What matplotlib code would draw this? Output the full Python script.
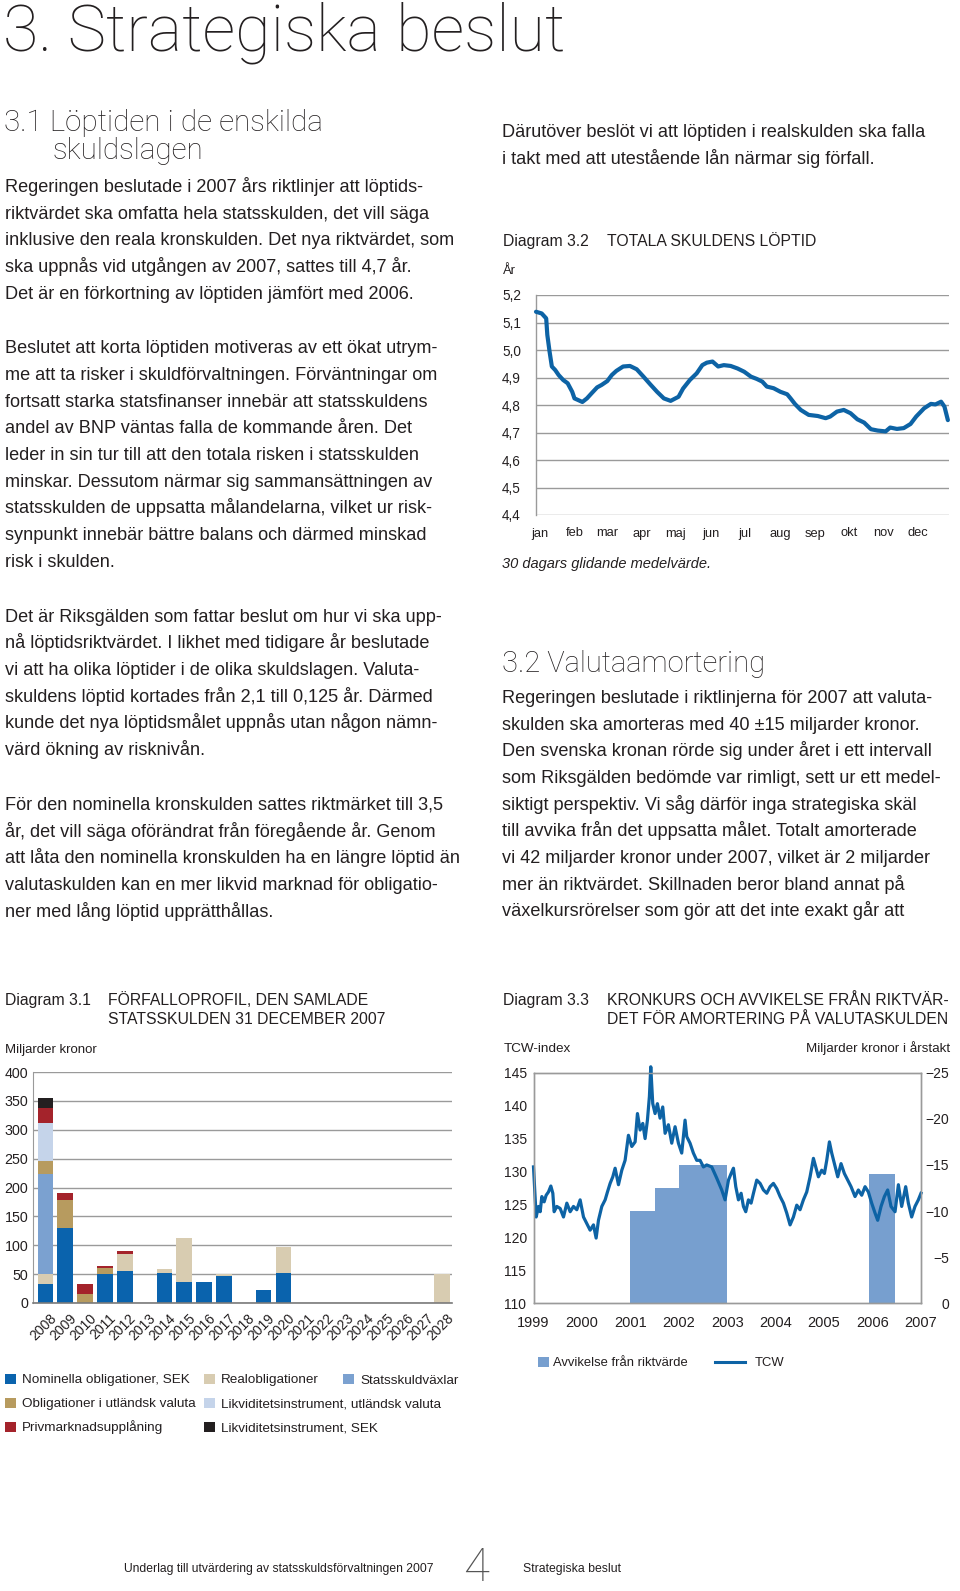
import matplotlib
matplotlib.use("Agg")
import matplotlib.pyplot as plt
import matplotlib.transforms as mtrans
from matplotlib.patches import Rectangle
from matplotlib.lines import Line2D
import numpy as np

# ---------------- data ----------------
# Diagram 3.2 Totala skuldens löptid (30-day moving average), day of year -> years
lop_day = [0, 5, 9, 10, 12, 14, 17, 20, 24, 28, 32, 34, 41, 45, 49, 54, 58, 63, 67, 71, 77, 83,
           89, 95, 101, 107, 113, 119, 126, 130, 136, 142, 147, 151, 156, 161, 166, 172, 178,
           184, 190, 195, 200, 204, 210, 216, 222, 225, 229, 234, 241, 249, 256, 260, 266,
           272, 278, 284, 290, 296, 302, 309, 313, 319, 325, 331, 336, 343, 349, 353, 358,
           361, 364]
lop_val = [5.139, 5.133, 5.115, 5.055, 4.994, 4.940, 4.927, 4.909, 4.891, 4.879, 4.848, 4.824,
           4.811, 4.824, 4.842, 4.864, 4.873, 4.887, 4.909, 4.924, 4.940, 4.942, 4.930, 4.903,
           4.875, 4.848, 4.824, 4.815, 4.830, 4.860, 4.891, 4.915, 4.945, 4.954, 4.958, 4.940,
           4.945, 4.942, 4.933, 4.921, 4.903, 4.895, 4.885, 4.867, 4.861, 4.848, 4.839, 4.824,
           4.803, 4.782, 4.764, 4.760, 4.752, 4.758, 4.776, 4.782, 4.770, 4.748, 4.736, 4.712,
           4.707, 4.704, 4.718, 4.713, 4.716, 4.731, 4.758, 4.788, 4.804, 4.802, 4.812, 4.794,
           4.745]
months = ["jan", "feb", "mar", "apr", "maj", "jun", "jul", "aug", "sep", "okt", "nov", "dec"]
month_start = [0, 31, 59, 90, 120, 151, 181, 212, 243, 273, 304, 334]
lop_ticks = [4.4, 4.5, 4.6, 4.7, 4.8, 4.9, 5.0, 5.1, 5.2]

# Diagram 3.1 Förfalloprofil (miljarder kronor)
years31 = [str(y) for y in range(2008, 2029)]
nominella = [33.7, 129.7, 0, 49.4, 55.2, 0, 52.3, 36.6, 35.5, 47.0, 0, 23.3, 51.2, 0, 0, 0, 0, 0, 0, 0, 0]
real =      [16.3, 0, 0, 0, 29.8, 0, 5.8, 75.6, 0, 2.4, 0, 0, 45.3, 0, 0, 0, 0, 0, 0, 0, 50.0]
vaxlar =    [172.7, 0, 0, 0, 0, 0, 0, 0, 0, 0, 0, 0, 0, 0, 0, 0, 0, 0, 0, 0, 0]
obl_utl =   [23.3, 49.4, 15.0, 10.6, 0, 0, 0, 0, 0, 0, 0, 0, 0, 0, 0, 0, 0, 0, 0, 0, 0]
likv_utl =  [65.7, 0, 0, 0, 0, 0, 0, 0, 0, 0, 0, 0, 0, 0, 0, 0, 0, 0, 0, 0, 0]
privmarkn = [26.6, 11.6, 17.4, 4.0, 5.8, 0, 0, 0, 0, 0, 0, 0, 0, 0, 0, 0, 0, 0, 0, 0, 0]
likv_sek =  [16.3, 0, 0, 0, 0, 0, 0, 0, 0, 0, 0, 0, 0, 0, 0, 0, 0, 0, 0, 0, 0]
series31_names = ["Nominella obligationer, SEK", "Realobligationer", "Statsskuldväxlar",
                  "Obligationer i utländsk valuta", "Likviditetsinstrument, utländsk valuta",
                  "Privmarknadsupplåning", "Likviditetsinstrument, SEK"]
y31_ticks = [0, 50, 100, 150, 200, 250, 300, 350, 400]

# Diagram 3.3 TCW index and deviation from target amortisation
tcw_year = [1999.000, 1999.055, 1999.103, 1999.138, 1999.172, 1999.220, 1999.261, 1999.309,
            1999.358, 1999.399, 1999.426, 1999.481, 1999.550, 1999.619, 1999.688, 1999.757,
            1999.825, 1999.894, 1999.963, 2000.032, 2000.100, 2000.169, 2000.238, 2000.293,
            2000.341, 2000.410, 2000.479, 2000.527, 2000.582, 2000.637, 2000.685, 2000.754,
            2000.823, 2000.891, 2000.960, 2001.029, 2001.098, 2001.146, 2001.201, 2001.256,
            2001.304, 2001.352, 2001.393, 2001.421, 2001.462, 2001.510, 2001.558, 2001.613,
            2001.668, 2001.717, 2001.785, 2001.854, 2001.923, 2001.992, 2002.060, 2002.129,
            2002.164, 2002.232, 2002.301, 2002.370, 2002.439, 2002.508, 2002.576, 2002.679,
            2002.783, 2002.886, 2002.955, 2003.025, 2003.080, 2003.128, 2003.176, 2003.231,
            2003.286, 2003.334, 2003.382, 2003.437, 2003.492, 2003.541, 2003.609, 2003.678,
            2003.747, 2003.816, 2003.885, 2003.953, 2004.022, 2004.091, 2004.160, 2004.228,
            2004.297, 2004.366, 2004.435, 2004.503, 2004.572, 2004.641, 2004.710, 2004.779,
            2004.827, 2004.882, 2004.950, 2005.006, 2005.054, 2005.109, 2005.157, 2005.212,
            2005.281, 2005.349, 2005.418, 2005.487, 2005.556, 2005.638, 2005.707, 2005.776,
            2005.845, 2005.913, 2005.982, 2006.051, 2006.106, 2006.175, 2006.244, 2006.312,
            2006.381, 2006.464, 2006.533, 2006.601, 2006.684, 2006.739, 2006.807, 2006.876,
            2006.945, 2007.000]
tcw_val = [130.7, 123.1, 124.7, 123.9, 126.2, 125.4, 126.4, 126.9, 127.8, 126.7, 123.9, 124.7,
           124.4, 123.1, 125.2, 123.9, 124.7, 124.2, 125.7, 123.1, 122.1, 121.1, 121.9, 119.9,
           122.6, 124.7, 125.7, 126.9, 128.2, 129.2, 130.5, 128.0, 130.2, 131.7, 135.5, 133.8,
           134.5, 138.8, 136.3, 137.3, 135.0, 137.8, 141.4, 145.9, 140.3, 138.8, 140.3, 138.1,
           139.8, 135.8, 137.1, 134.3, 136.8, 134.3, 132.8, 137.8, 135.3, 134.3, 132.8, 131.7,
           131.7, 130.7, 131.0, 130.7, 129.0, 127.2, 125.7, 128.7, 129.7, 130.5, 127.7, 125.7,
           126.7, 124.7, 123.9, 125.7, 125.2, 126.7, 128.7, 128.2, 127.2, 126.7, 127.7, 128.2,
           127.4, 126.2, 125.2, 123.7, 121.9, 123.1, 124.9, 124.2, 125.7, 126.9, 129.2, 132.0,
           130.7, 129.2, 130.2, 129.7, 131.7, 134.5, 132.8, 131.2, 129.2, 131.2, 129.7, 128.7,
           127.7, 126.2, 127.2, 126.4, 127.7, 126.9, 125.2, 123.7, 122.6, 124.7, 126.2, 127.2,
           124.7, 123.9, 128.0, 124.7, 127.7, 125.2, 123.1, 124.7, 125.7, 126.7]
avv_start = [2001.0, 2001.5, 2002.0, 2005.92]
avv_end = [2001.5, 2002.0, 2003.0, 2006.46]
avv_val = [-10.0, -12.5, -15.0, -14.0]
tcw_ticks = [110, 115, 120, 125, 130, 135, 140, 145]
avv_ticks = [0, -5, -10, -15, -20, -25]
year_ticks33 = list(range(1999, 2008))

# ---------------- layout helpers ----------------
W, H = 960, 1591
FONT = "Liberation Sans"
TXT = "#231f20"
GRID = "#9a9a9a"
LINEC = "#0d63a5"
plt.rcParams["font.family"] = [FONT, "DejaVu Sans"]
fig = plt.figure(figsize=(W / 100, H / 100), dpi=100)


def T(x, y, s, size=13.1, **kw):
    kw.setdefault("color", TXT)
    kw.setdefault("va", "baseline")
    fig.text(x / W, 1 - y / H, s, fontsize=size, **kw)


def AX(l, t, r, b):
    return fig.add_axes([l / W, 1 - b / H, (r - l) / W, (b - t) / H])


def SQ(x, y, s, color):
    fig.add_artist(Rectangle((x / W, 1 - (y + s / 2) / H), s / W, s / H,
                             transform=fig.transFigure, color=color, lw=0))


LIGHT = dict(fontweight="light", family=["Roboto", FONT])

# ---------------- page text ----------------
T(3, 50, "3. Strategiska beslut", size=46.5, **LIGHT)
T(4, 131, "3.1 Löptiden i de enskilda", size=21.3, **LIGHT)
T(53, 159, "skuldslagen", size=21.3, **LIGHT)

LH = 26.67
para1 = ["Regeringen beslutade i 2007 års riktlinjer att löptids-",
         "riktvärdet ska omfatta hela statsskulden, det vill säga",
         "inklusive den reala kronskulden. Det nya riktvärdet, som",
         "ska uppnås vid utgången av 2007, sattes till 4,7 år.",
         "Det är en förkortning av löptiden jämfört med 2006."]
para2 = ["Beslutet att korta löptiden motiveras av ett ökat utrym-",
         "me att ta risker i skuldförvaltningen. Förväntningar om",
         "fortsatt starka statsfinanser innebär att statsskuldens",
         "andel av BNP väntas falla de kommande åren. Det",
         "leder in sin tur till att den totala risken i statsskulden",
         "minskar. Dessutom närmar sig sammansättningen av",
         "statsskulden de uppsatta målandelarna, vilket ur risk-",
         "synpunkt innebär bättre balans och därmed minskad",
         "risk i skulden."]
para3 = ["Det är Riksgälden som fattar beslut om hur vi ska upp-",
         "nå löptidsriktvärdet. I likhet med tidigare år beslutade",
         "vi att ha olika löptider i de olika skuldslagen. Valuta-",
         "skuldens löptid kortades från 2,1 till 0,125 år. Därmed",
         "kunde det nya löptidsmålet uppnås utan någon nämn-",
         "värd ökning av risknivån."]
para4 = ["För den nominella kronskulden sattes riktmärket till 3,5",
         "år, det vill säga oförändrat från föregående år. Genom",
         "att låta den nominella kronskulden ha en längre löptid än",
         "valutaskulden kan en mer likvid marknad för obligatio-",
         "ner med lång löptid upprätthållas."]
paraR1 = ["Därutöver beslöt vi att löptiden i realskulden ska falla",
          "i takt med att utestående lån närmar sig förfall."]
paraR2 = ["Regeringen beslutade i riktlinjerna för 2007 att valuta-",
          "skulden ska amorteras med 40 ±15 miljarder kronor.",
          "Den svenska kronan rörde sig under året i ett intervall",
          "som Riksgälden bedömde var rimligt, sett ur ett medel-",
          "siktigt perspektiv. Vi såg därför inga strategiska skäl",
          "till avvika från det uppsatta målet. Totalt amorterade",
          "vi 42 miljarder kronor under 2007, vilket är 2 miljarder",
          "mer än riktvärdet. Skillnaden beror bland annat på",
          "växelkursrörelser som gör att det inte exakt går att"]

for x0, y0, lines in [(5, 192, para1), (5, 353.3, para2), (5, 621.7, para3),
                      (5, 810, para4), (502, 137, paraR1), (502, 703, paraR2)]:
    for i, s in enumerate(lines):
        T(x0, y0 + i * LH, s)

T(502, 672, "3.2 Valutaamortering", size=21, **LIGHT)

# ---------------- Diagram 3.2 ----------------
T(503, 246, "Diagram 3.2", size=11.3)
T(607, 246, "TOTALA SKULDENS LÖPTID", size=11.3)
T(503, 274, "År", size=9.4)
T(502, 568, "30 dagars glidande medelvärde.", size=10.5, style="italic")

ax1 = AX(536, 295, 949, 515)
ax1.plot(lop_day, lop_val, color=LINEC, lw=3.0, solid_capstyle="round",
         solid_joinstyle="round", clip_on=False, zorder=3)
ax1.set_xlim(0, 365)
ax1.set_ylim(4.4, 5.2)
ax1.set_yticks(lop_ticks)
ax1.set_yticklabels([f"{v:.1f}".replace(".", ",") for v in lop_ticks], ha="left")
ax1.set_xticks([m + 3.5 for m in month_start])
ax1.set_xticklabels(months)
ax1.tick_params(axis="y", length=0, pad=24.5, labelsize=9.8, labelcolor=TXT)
ax1.tick_params(axis="x", length=0, pad=9, labelsize=9.3, labelcolor=TXT)
ax1.grid(axis="y", color=GRID, lw=1.0)
ax1.set_axisbelow(True)
for s in ["top", "right", "bottom"]:
    ax1.spines[s].set_visible(False)
ax1.spines["left"].set_color(GRID)
ax1.spines["left"].set_linewidth(1.0)

# ---------------- Diagram 3.1 ----------------
T(5, 1005, "Diagram 3.1", size=11.3)
T(108, 1005, "FÖRFALLOPROFIL, DEN SAMLADE", size=11.3)
T(108, 1024, "STATSSKULDEN 31 DECEMBER 2007", size=11.3)
T(5, 1053, "Miljarder kronor", size=9.5)

ax2 = AX(33, 1072, 452, 1303)
cols31 = ["#0a63ad", "#d8ccb1", "#7ba1d0", "#b79b5f", "#c5d4ea", "#a4232b", "#231f20"]
series31 = [nominella, real, vaxlar, obl_utl, likv_utl, privmarkn, likv_sek]
xpos = np.arange(len(years31))
bottom = np.zeros(len(years31))
for vals, c in zip(series31, cols31):
    ax2.bar(xpos, vals, bottom=bottom, width=0.79, color=c, lw=0, zorder=2)
    bottom += np.array(vals)
ax2.set_xlim(-0.63, 20.5)
ax2.set_ylim(0, 400)
ax2.set_yticks(y31_ticks)
ax2.tick_params(axis="y", length=0, pad=3.5, labelsize=10.3, labelcolor=TXT)
ax2.set_xticks(xpos)
ax2.set_xticklabels(years31, rotation=45, ha="right", va="top", rotation_mode="anchor")
ax2.tick_params(axis="x", length=0, pad=6, labelsize=10.0, labelcolor=TXT)
ax2.grid(axis="y", color=GRID, lw=1.0, zorder=0)
ax2.set_axisbelow(True)
for s in ["top", "right"]:
    ax2.spines[s].set_visible(False)
ax2.spines["left"].set_color(GRID)
ax2.spines["bottom"].set_color("#7a7a7a")
ax2.spines["bottom"].set_linewidth(1.2)
offset = mtrans.ScaledTranslation(4 / 100, 0, fig.dpi_scale_trans)
for lab in ax2.get_xticklabels():
    lab.set_transform(lab.get_transform() + offset)

leg_rows = [1379, 1403, 1427]
leg_items = [(5, 0, 0), (204, 0, 1), (343, 0, 2), (5, 1, 3), (204, 1, 4), (5, 2, 5), (204, 2, 6)]
for x0, r, k in leg_items:
    SQ(x0, leg_rows[r], 10.5, cols31[k])
    T(x0 + 17, leg_rows[r] + 4.5, series31_names[k], size=9.7)

# ---------------- Diagram 3.3 ----------------
T(503, 1005, "Diagram 3.3", size=11.3)
T(607, 1005, "KRONKURS OCH AVVIKELSE FRÅN RIKTVÄR-", size=11.3)
T(607, 1024, "DET FÖR AMORTERING PÅ VALUTASKULDEN", size=11.3)
T(504, 1052, "TCW-index", size=9.7)
T(950, 1052, "Miljarder kronor i årstakt", size=9.6, ha="right")

ax3 = AX(533.5, 1072.7, 921, 1303.3)
ax3b = ax3.twinx()
ax3b.bar(avv_start, avv_val, width=np.array(avv_end) - np.array(avv_start), align="edge",
         color="#779fcf", lw=0)
ax3b.set_ylim(0, -25)
ax3b.set_yticks(avv_ticks)
ax3b.set_yticklabels([("\u2212" + str(-v)) if v < 0 else "0" for v in avv_ticks], ha="right")
ax3b.tick_params(axis="y", length=0, pad=20, labelsize=10, labelcolor=TXT)
ax3.set_zorder(ax3b.get_zorder() + 1)
ax3.patch.set_visible(False)
ax3.plot(tcw_year, tcw_val, color=LINEC, lw=2.3, solid_joinstyle="round", clip_on=False)
ax3.set_xlim(1999, 2007)
ax3.set_ylim(110, 145)
ax3.set_yticks(tcw_ticks)
ax3.set_yticklabels([str(v) for v in tcw_ticks], ha="left")
ax3.tick_params(axis="y", length=0, pad=21, labelsize=10, labelcolor=TXT)
ax3.set_xticks(year_ticks33)
ax3.tick_params(axis="x", length=0, pad=9, labelsize=10.5, labelcolor=TXT)
for a in (ax3, ax3b):
    for s in a.spines.values():
        s.set_color(GRID)
        s.set_linewidth(1.0)

SQ(538, 1362, 10.5, "#779fcf")
T(553, 1366.5, "Avvikelse från riktvärde", size=9.4)
fig.add_artist(Line2D([715 / W, 745 / W], [1 - 1362 / H, 1 - 1362 / H],
                      transform=fig.transFigure, color=LINEC, lw=2.2))
T(755, 1366.5, "TCW", size=9.4)

# ---------------- footer ----------------
T(124, 1572, "Underlag till utvärdering av statsskuldsförvaltningen 2007", size=8.7)
T(463, 1590, "4", size=34, va="bottom", color="#555555", **LIGHT)
T(523, 1572, "Strategiska beslut", size=8.8)

fig.savefig("out.png", dpi=100)
